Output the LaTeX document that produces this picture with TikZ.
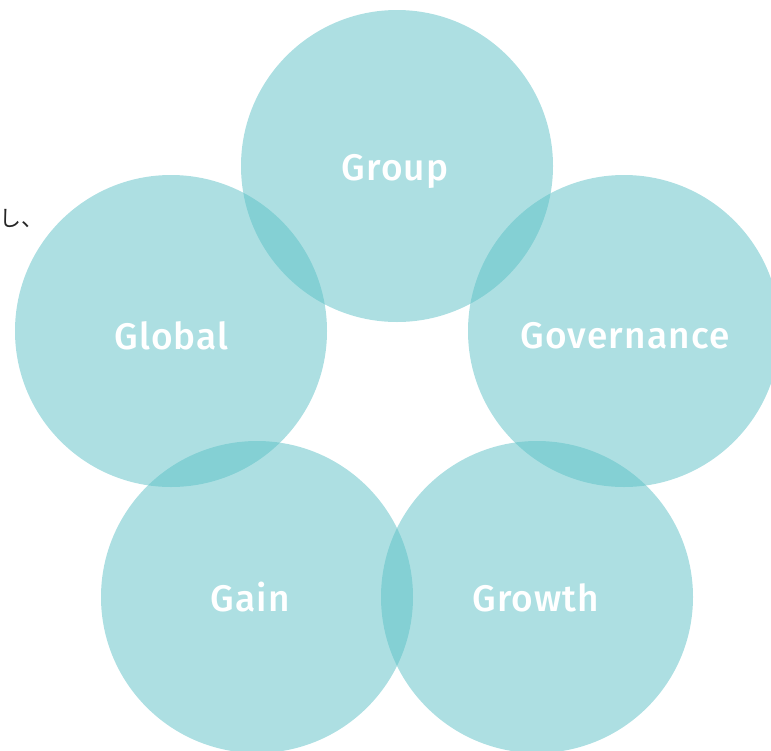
\documentclass[tikz,border=0pt]{standalone}
\usepackage{fontspec}
\setmainfont{Fira Sans}
\newfontfamily\cjk{Noto Sans CJK JP}
\newfontfamily\lbl[LetterSpace=3]{Fira Sans Medium}
\definecolor{teal}{HTML}{5BC0C6}
\begin{document}
\begin{tikzpicture}[x=1pt,y=-1pt,
  ring/.style={circle,fill=teal,fill opacity=0.5,minimum size=312pt,inner sep=0pt},
  word/.style={anchor=base,text=white,inner sep=0pt,font=\lbl\fontsize{37}{42}\selectfont}]
\useasboundingbox (0,0) rectangle (771,750);
\clip (0,0) rectangle (771,750);
\node[anchor=west,font=\cjk\fontsize{22}{26}\selectfont,text=black!85] (jp) at (-4,219) {し、};
\node[ring] (group) at (397,166) {};
\node[ring] (global) at (171,331) {};
\node[ring] (gov) at (624,331) {};
\node[ring] (gain) at (257,597) {};
\node[ring] (growth) at (537,597) {};
\node[word] (tgroup) at (395,180) {Group};
\node[word] (tglobal) at (171.5,349) {Global};
\node[word] (tgov) at (625,348.5) {Governance};
\node[word] (tgain) at (250,611.5) {Gain};
\node[word] (tgrowth) at (536,611.5) {Growth};
\end{tikzpicture}
\end{document}
